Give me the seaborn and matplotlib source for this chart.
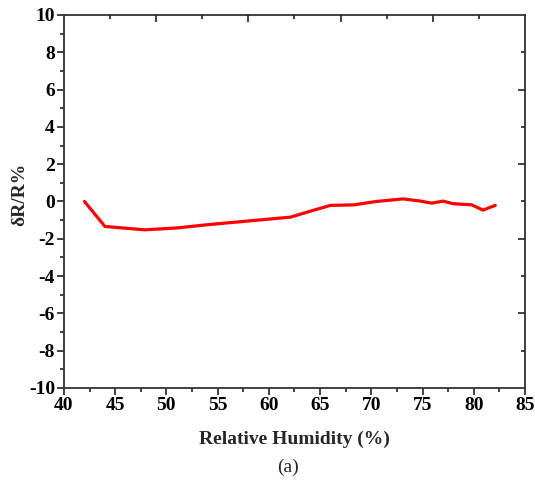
import numpy as np
import pandas as pd
import matplotlib
matplotlib.use("Agg")
import matplotlib.pyplot as plt
import seaborn as sns
from matplotlib.ticker import MultipleLocator

humidity = [42.0, 44.0, 47.9, 51.0, 54.3, 58.5, 62.1, 64.3, 66.0, 68.3, 70.5, 73.1, 74.8, 75.9, 77.0, 78.0, 79.8, 80.9, 82.1]
delta_r = [0.0, -1.34, -1.52, -1.42, -1.23, -1.02, -0.84, -0.48, -0.21, -0.18, 0.0, 0.14, 0.02, -0.09, 0.02, -0.12, -0.18, -0.46, -0.21]
x_ticks = [40, 45, 50, 55, 60, 65, 70, 75, 80, 85]
y_ticks = [-10, -8, -6, -4, -2, 0, 2, 4, 6, 8, 10]

sns.set_style("white")
plt.rcParams['font.family'] = ['Liberation Serif', 'DejaVu Serif']
plt.rcParams['axes.unicode_minus'] = False

df = pd.DataFrame({"RH": humidity, "dR": delta_r})

fig = plt.figure(figsize=(5.35, 4.83), dpi=100)
ax = fig.add_axes([0.1196, 0.1967, 0.8617, 0.7723])
sns.lineplot(data=df, x="RH", y="dR", ax=ax, color="#ff0000", linewidth=2.3)

ax.set_xlim(40, 85)
ax.set_ylim(-10, 10)
ax.set_xticks(x_ticks)
ax.set_yticks(y_ticks)
ax.xaxis.set_minor_locator(MultipleLocator(2.5))
ax.yaxis.set_minor_locator(MultipleLocator(1))
ax.tick_params(axis='both', which='major', direction='out', length=5, width=1.2,
               labelsize=14, colors='#222222', labelcolor='black')
ax.tick_params(axis='both', which='minor', direction='out', length=3, width=1.2, colors='#222222')
ax.tick_params(axis='x', pad=1.5)
ax.tick_params(axis='y', pad=1.5)

for s in ax.spines.values():
    s.set_visible(True)
    s.set_color('#333333')
    s.set_linewidth(1.3)

ax.set_xlabel("Relative Humidity (%)", fontsize=14, fontweight='bold')
ax.set_ylabel("δR/R%", fontsize=14, fontweight='bold')
ax.xaxis.set_label_coords(0.5, -0.115)
ax.yaxis.set_label_coords(-0.078, 0.52)

# Top and right decorative inward ticks
axt = ax.twiny()
axt.set_xlim(0, 10)
axt.set_xticks([2, 4, 6, 8])
axt.set_xticks([1, 3, 5, 7, 9], minor=True)
axt.tick_params(axis='x', which='major', direction='in', length=5, width=1.2, labeltop=False, colors='#222222')
axt.tick_params(axis='x', which='minor', direction='in', length=3, width=1.2, colors='#222222')

axr = ax.twinx()
axr.set_ylim(0, 10)
axr.set_yticks([2, 4, 6, 8])
axr.set_yticks([1, 3, 5, 7, 9], minor=True)
axr.tick_params(axis='y', which='major', direction='in', length=5, width=1.2, labelright=False, colors='#222222')
axr.tick_params(axis='y', which='minor', direction='in', length=3, width=1.2, colors='#222222')
for a in (axt, axr):
    for s in a.spines.values():
        s.set_visible(False)

for lab in ax.get_xticklabels() + ax.get_yticklabels():
    lab.set_fontweight('bold')

fig.text(0.538, 0.033, "(a)", ha='center', va='center', fontsize=14)

fig.savefig("out.png", dpi=100, facecolor='white')
